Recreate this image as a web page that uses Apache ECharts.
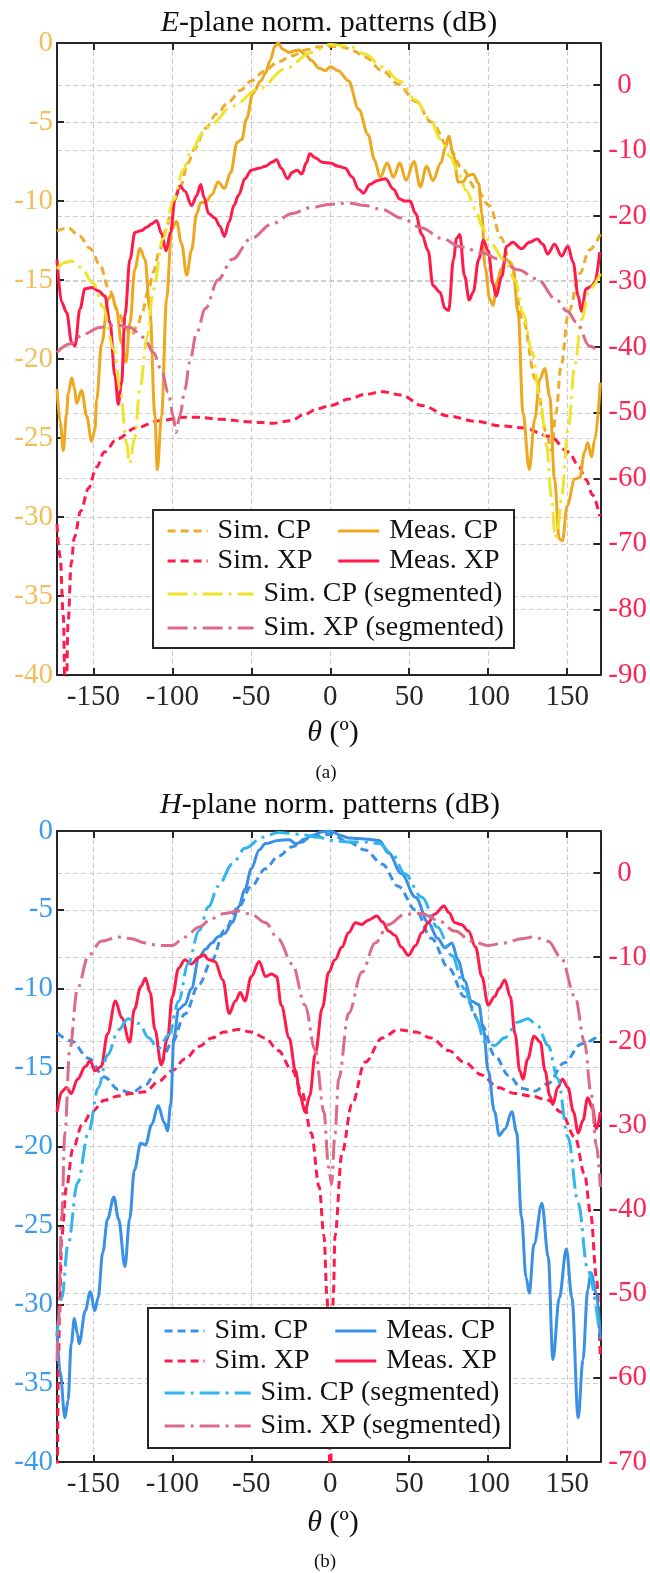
<!DOCTYPE html>
<html><head><meta charset="utf-8">
<script src="https://cdn.jsdelivr.net/npm/echarts@6.0.0/dist/echarts.min.js"></script>
<style>html,body{margin:0;padding:0;background:#fff}#c{width:650px;height:1573px}</style>
</head><body><div id="c"></div>
<script>
// ---------- tick labels & legend labels ----------
const thetaTicks = [-150, -100, -50, 0, 50, 100, 150];
const legendLabels = ['Sim. CP', 'Sim. XP', 'Meas. CP', 'Meas. XP', 'Sim. CP (segmented)', 'Sim. XP (segmented)'];

// ---------- (a) E-plane ----------
const E_simCP_theta = [-173,-166,-159,-152,-146,-140,-134,-130,-126,-122,-119,-115,-112,-108,-104,-100,-95,-90,-86,-79,-72,-64,-57,-50,-42,-33,-24,-16,-8,0,8,15,22,33,43,54,64,75,84,92,101,108,114,122,130,137,140,143,146,151,158,164,171];
const E_simCP_dB = [-11.9,-11.7,-12.2,-13.0,-14.0,-15.6,-17.0,-18.0,-18.5,-17.9,-17.0,-15.6,-14.5,-13.1,-11.8,-10.3,-9.1,-7.6,-6.7,-5.4,-4.5,-3.7,-3.0,-2.4,-1.8,-1.2,-0.8,-0.45,-0.25,-0.2,-0.25,-0.5,-0.9,-1.75,-2.6,-3.7,-5.0,-6.6,-8.0,-9.2,-10.3,-12.3,-13.9,-17.5,-21.3,-24.7,-25.8,-23.4,-20.5,-17.0,-14.6,-13.1,-12.1];

const E_measCP_theta = [-173,-171,-169,-167,-165.9,-163.7,-162,-160.6,-157.4,-154.2,-151.1,-149,-147.9,-144.7,-140.6,-138.4,-135.3,-132.1,-129.4,-126.8,-123.7,-120.5,-117.3,-114.2,-111,-109.5,-106.8,-103.6,-100.4,-97.3,-94.1,-90.9,-87.8,-84.6,-82,-79,-75,-71,-67,-63,-59,-56,-53,-49,-44,-41,-38,-35,-33,-30,-26,-23,-20,-16,-12,-7,-3,0,5,11.6,18,24,28,31.6,36,40,44,48,53,57,61,65,70,73,75,78,81,84,87,90.5,94,96,98,101,103,106,108,111.7,115.6,119,122,126,129.5,132.6,135.8,139,142,145,147,150,154.8,158,161,163,165.4,167.5,171];
const E_measCP_dB = [-21.9,-24,-25.8,-23.5,-22.2,-21.2,-21.8,-22.8,-22.0,-23.6,-25.2,-24.5,-22.6,-19.0,-16.2,-15.9,-16.9,-19.0,-20.2,-17.7,-14.3,-13.0,-13.7,-16.9,-23.6,-27.0,-23.6,-16.2,-11.8,-11.3,-12.7,-14.7,-13.1,-10.8,-10.1,-10.1,-9.6,-8.8,-9.2,-8.2,-6.3,-6.1,-4.8,-3.2,-2.4,-1.9,-1.1,-0.2,0,-0.4,-0.6,-0.5,-0.45,-0.7,-1.1,-1.6,-1.75,-1.5,-1.75,-2.4,-4.2,-5.8,-7.4,-8.5,-7.6,-8.5,-7.6,-8.7,-7.5,-9.1,-7.8,-8.7,-7.6,-6.6,-5.9,-7.1,-8.8,-8.8,-8.4,-8.3,-8.9,-10.8,-14.2,-16.2,-16.6,-15.0,-14.3,-13.7,-14.2,-17.1,-23.4,-27.0,-23.8,-21.3,-20.6,-22.4,-27.6,-31.4,-31.5,-29.3,-27.6,-27.5,-25.9,-25.3,-26.2,-25.1,-21.5];

const E_simXP_theta = [-173,-171,-169,-167.5,-166,-164,-162,-158,-153,-148,-143,-135,-123,-108,-93,-84,-69,-50,-36,-25,-16,-8,0,12,22,33,45,58,75,92,108,122,139,151,157,162,166,170.6];
const E_simXP_dB = [-67,-72,-81,-100,-82,-73,-69,-65,-61.5,-58.3,-56,-54,-52.3,-51.2,-50.7,-50.7,-51,-51.4,-51.6,-51.2,-50.2,-49.4,-48.9,-47.9,-47.2,-46.8,-47.3,-48.9,-50.5,-51.3,-52.0,-52.3,-53.6,-56.0,-58.0,-60.2,-62.5,-65.8];

const E_measXP_theta = [-173,-170,-166.9,-163.7,-161.6,-158.5,-155.3,-151.1,-146.9,-142.7,-139.5,-136.3,-134.2,-132.1,-130,-126.8,-123.7,-119.4,-116.3,-113.1,-109.9,-106.8,-104,-101.1,-98.3,-95.2,-92,-87.8,-84.6,-82,-80,-77,-73,-70,-67,-64,-61,-58,-54,-50,-45,-41,-37,-34,-31,-27,-24,-21,-18,-15,-13,-9.5,-5,0,5,9.5,13.7,18,21,25,29.5,35,40,44,47,50.5,54,58,62,65,69.5,72.6,75,78,80,82,85,88,90.5,94,97,100,103,105,108.6,111.7,115.6,121,126,131,134.6,137.7,142,146.5,150.5,153.7,157,159,162,165.4,167.5,170.6];
const E_measXP_dB = [-26.6,-33.2,-34.7,-39.3,-39.8,-34.2,-31.1,-30.9,-31.4,-32.2,-36.2,-44.4,-48.7,-45.4,-35.2,-26.6,-22.5,-22.2,-21.7,-21.2,-20.7,-22.7,-25.3,-22.5,-17.4,-15.4,-16.2,-18.4,-16.9,-15.2,-17.1,-19.6,-20.3,-21.5,-23.1,-20.9,-18.4,-16.8,-14.3,-13.0,-12.7,-12.4,-11.8,-11.4,-12.7,-14.3,-13.3,-13.0,-13.6,-11.8,-10.5,-11.1,-11.8,-11.9,-12.4,-12.7,-14.0,-15.9,-16.5,-15.2,-14.6,-14.3,-15.9,-17.4,-17.7,-17.7,-19.6,-22.8,-25.3,-30.6,-31.6,-34.1,-34.4,-26.6,-23.4,-22.8,-29.1,-32.8,-31.6,-26.6,-23.7,-25.3,-30.3,-32.2,-29.2,-24.6,-24.0,-25.0,-24.0,-23.5,-24.3,-25.8,-24.3,-26.1,-24.6,-27.0,-32.2,-34.5,-31.1,-30.7,-30.1,-25.5];

const E_segCP_theta = [-173,-168,-164,-158,-150,-144,-137,-133,-129,-127,-124,-120.5,-116,-112,-106,-99,-93,-88,-80,-75,-62,-45,-28,-12,0,12,22,33,44,54,63,70,76,81,86,92,96,101,110,117,122,128,132.6,137,140,142.5,144,146.5,150.5,155,159,164,171];
const E_segCP_dB = [-14.3,-13.9,-13.8,-14.2,-15.2,-16.7,-19.4,-21.9,-25.3,-26.6,-25.1,-21.9,-18.6,-15.6,-12.4,-9.9,-8.0,-6.8,-5.6,-5.1,-4.0,-2.9,-1.6,-0.6,-0.1,-0.2,-0.7,-1.5,-2.4,-3.6,-4.8,-6.1,-7.2,-8.2,-9.3,-10.5,-11.6,-12.6,-13.7,-15.0,-17.1,-19.6,-22.4,-25.5,-28.7,-31.3,-30.8,-28.7,-24.5,-20.3,-17.5,-15.6,-14.6];

const E_segXP_theta = [-173,-165,-156,-146,-135,-127,-118,-112,-107,-102.6,-99.4,-97.7,-95.2,-92,-89,-84.6,-79,-71,-62,-50,-37,-24,-12,0,11.6,22,33,45,58,70.5,83,96,107,119,131,143,150,156,164,170.6];
const E_segXP_dB = [-40.8,-39.5,-38.0,-37.0,-36.6,-37.0,-38.5,-40.8,-43.4,-46.9,-50.5,-53.0,-50.5,-46.4,-42.3,-37.8,-34.1,-29.7,-26.6,-23.4,-21.2,-19.6,-18.7,-18.2,-18.0,-18.4,-19.0,-20.3,-21.8,-23.4,-24.7,-25.6,-26.6,-28.2,-29.6,-32.7,-34.5,-36.2,-39.8,-40.8];

// ---------- (b) H-plane ----------
const H_simCP_theta = [-173,-164,-153,-143,-134,-126,-117,-109,-100,-92,-83,-75,-67,-58,-50,-41,-33,-24,-16,-7,0,11.6,22,33,43,54,64,75,85,96,104,113,121,129,138,148,159,171];
const H_simCP_dB = [-12.8,-13.3,-14.4,-15.6,-16.4,-16.6,-16.1,-15.0,-13.4,-11.6,-9.7,-8.2,-6.3,-4.8,-3.5,-2.4,-1.6,-1.0,-0.5,-0.3,-0.2,-0.7,-1.2,-2.1,-3.5,-5.0,-6.8,-8.7,-10.5,-12.3,-14.2,-15.5,-16.3,-16.5,-16.0,-14.7,-13.5,-12.9];

const H_measCP_theta = [-173,-171,-168,-166,-164,-162,-160,-159,-155,-152,-149,-147,-144,-141,-137,-134,-130,-127,-124,-120,-117,-113,-109,-105,-103,-101,-99,-96,-92,-88,-83,-79,-75,-71,-67,-62,-58,-54,-50,-45,-41,-33,-26,-22,-18,-12,-5,0,7,11.6,22,31,37,45,54,62,68,72.6,77,81,85,89.5,94,97,100,104,107,110.5,115,118,121,124,126,129,134,138,141,145,149.5,153,157,160,163,165,168.5,171];
const H_measCP_dB = [-31.7,-34.3,-37.2,-36.1,-32.5,-30.9,-31.9,-32.5,-30.4,-29.2,-30.4,-29.6,-26.7,-24.6,-23.2,-24.6,-27.6,-24.6,-21.5,-19.8,-19.9,-18.6,-17.4,-18.5,-19.0,-17.3,-13.1,-11.3,-11.0,-10.0,-8.0,-7.5,-7.1,-6.7,-6.5,-5.8,-4.8,-3.7,-2.4,-1.2,-0.8,-0.6,-0.55,-0.8,-0.7,-0.3,-0.05,0,-0.3,-0.45,-0.5,-0.6,-1.4,-2.7,-4.2,-5.8,-6.8,-7.4,-7.1,-8.2,-9.5,-10.8,-11.0,-12.6,-15.2,-17.8,-19.3,-18.9,-17.8,-19.1,-24.4,-28.3,-29.3,-26.2,-23.6,-27.0,-33.5,-29.6,-26.5,-29.6,-37.2,-33.5,-29.1,-28.0,-29.3,-32.2];

const H_simXP_theta = [-173,-172,-171.5,-170,-167,-163,-157,-151,-143,-134,-126,-117,-109,-100,-92,-83,-75,-67,-58,-50,-41,-33,-24,-18,-12,-7,-4,-2,-0.8,0,0.8,2,3,7.4,13.7,22,33,43,54,64,75,85,96,106,117,127,138,146,155,161,165,168.5,171];
const H_simXP_dB = [-80,-58,-53,-43.1,-37.3,-32.8,-29.9,-28.4,-27.0,-26.5,-26.2,-26.0,-24.8,-23.5,-22.1,-20.6,-19.6,-18.9,-18.6,-18.9,-19.6,-21.1,-23.5,-26.0,-30.9,-37.3,-43.1,-50.5,-60,-85,-60,-50,-43.1,-33.3,-27.5,-22.5,-19.6,-18.6,-18.9,-19.6,-21.1,-22.5,-24.0,-25.5,-26.2,-26.5,-27.0,-28.4,-31.4,-35.8,-40.7,-48.0,-57.8];

const H_measXP_theta = [-173,-170,-167,-164,-160,-155,-152,-149,-145,-141,-136,-132,-127,-124,-120,-117,-114,-111,-107,-103,-100,-96,-92,-88,-83,-80,-77,-73,-68,-64,-60,-57,-54,-50,-45,-41,-37,-34,-31,-26,-22,-19,-16,-13,-9.5,-5,-1,3,7.4,11.6,16,20,24,29.5,33,37,41,45,49.5,54,58,62,66,72,75,79,83,87.5,92,96,100,104,107,110.5,114,117,120,122,125,129,133,136,139,141,144,147,150.5,154,157,160,163,166,168.5,171];
const H_measXP_dB = [-28.4,-26.0,-25.5,-26.2,-24.5,-23.0,-22.3,-23.5,-23.0,-19.1,-15.2,-17.2,-20.1,-16.2,-13.5,-12.5,-14.2,-18.6,-22.8,-19.6,-14.7,-11.3,-10.3,-10.8,-10.0,-9.7,-10.3,-10.5,-12.7,-16.7,-15.2,-14.2,-15.2,-12.3,-10.5,-12.3,-12.0,-12.3,-15.7,-19.6,-23.5,-26.5,-28.4,-26.5,-21.5,-16.0,-11.8,-10.3,-8.8,-7.1,-5.9,-6.1,-5.6,-5.1,-5.8,-6.9,-7.4,-8.8,-9.8,-8.6,-7.1,-5.9,-4.9,-3.9,-4.7,-5.9,-6.1,-6.9,-8.8,-12.3,-15.7,-14.7,-13.7,-12.7,-14.7,-19.1,-23.5,-24.5,-22.1,-19.4,-20.1,-23.5,-26.5,-27.5,-25.5,-24.5,-25.5,-28.4,-30.9,-29.4,-26.7,-27.9,-30.4,-28.4];

const H_segCP_theta = [-173,-170,-166,-160,-153,-147,-141,-134,-128,-121,-115,-109,-102,-96,-90,-83,-77,-71,-62,-54,-43,-33,-20,-7,0,11.6,22,31,39.6,47,58,68,77,85,92,98,104,110.5,119,125,131,138,144,150.5,157,163,170];
const H_segCP_dB = [-32.0,-29.6,-26.2,-22.3,-19.1,-16.3,-14.2,-12.6,-11.9,-12.2,-13.1,-13.8,-12.9,-10.8,-8.4,-6.3,-4.8,-3.5,-2.1,-1.1,-0.4,-0.1,-0.2,-0.4,-0.6,-0.7,-0.7,-0.8,-1.5,-2.7,-4.2,-6.1,-7.9,-10.0,-11.8,-13.4,-13.6,-13.1,-12.1,-11.9,-12.3,-13.6,-15.7,-19.4,-23.6,-27.8,-31.4];

const H_segXP_theta = [-173,-172,-170,-168,-165,-160,-153,-145,-134,-126,-117,-109,-100,-92,-83,-75,-67,-58,-50,-41,-33,-24,-16,-9.5,-4,-1,0.8,3,5.3,11.6,20,28.4,37,47,58,68,79,89.5,100,110.5,121,129,138,146,155,161,165,168.5,171];
const H_segXP_dB = [-58,-52.9,-40.7,-30.9,-21.1,-13.7,-9.8,-8.1,-7.6,-7.8,-8.3,-8.6,-8.6,-7.6,-6.4,-5.4,-4.8,-4.5,-4.9,-5.9,-7.8,-10.8,-15.7,-21.1,-28.4,-35,-37,-31,-24.5,-16.7,-11.8,-8.3,-6.1,-4.9,-4.8,-5.6,-6.9,-8.1,-8.6,-8.3,-7.8,-7.6,-8.1,-10.0,-14.7,-20.1,-26.0,-32.4,-37.3];

// ---------- styling ----------
const FONT = '"Liberation Serif","Times New Roman",serif';
const COL = {
  orange: '#EDA81F', orangeDash: '#EEAC2B', red: '#FF1A4A', yellow: '#EEE52A', pink: '#DD6A86',
  blue: '#3A90E4', cyan: '#31B5EE', axis: '#262626', grid: '#cdcdcd',
  orangeLab: '#F2BE5C', blueLab: '#3C9BEA', redLab: '#FF2453'
};
const DASH = [8, 5], DASHDOT = [20, 6, 3, 6];

function pairs(th, v) { return th.map((t, i) => [t, v[i]]); }
function mk(id, th, v, xi, yi, color, type) {
  return {
    name: id, type: 'line', xAxisIndex: xi, yAxisIndex: yi, data: pairs(th, v), z: 2,
    symbol: 'none', showSymbol: false, smooth: 0.35, smoothMonotone: 'x', clip: true,
    lineStyle: { color: color, width: 3, type: type, cap: 'butt', join: 'round' },
    itemStyle: { color: color }, emphasis: { disabled: true }, silent: true, animation: false
  };
}
const P = (g, i) => g + '|' + legendLabels[i];

const series = [
  mk(P('E', 0), E_simCP_theta, E_simCP_dB, 0, 0, COL.orangeDash, DASH),
  mk(P('E', 1), E_simXP_theta, E_simXP_dB, 0, 1, COL.red, DASH),
  mk(P('E', 2), E_measCP_theta, E_measCP_dB, 0, 0, COL.orange, 'solid'),
  mk(P('E', 3), E_measXP_theta, E_measXP_dB, 0, 1, COL.red, 'solid'),
  mk(P('E', 4), E_segCP_theta, E_segCP_dB, 0, 0, COL.yellow, DASHDOT),
  mk(P('E', 5), E_segXP_theta, E_segXP_dB, 0, 1, COL.pink, DASHDOT),
  mk(P('H', 0), H_simCP_theta, H_simCP_dB, 2, 2, COL.blue, DASH),
  mk(P('H', 1), H_simXP_theta, H_simXP_dB, 2, 3, COL.red, DASH),
  mk(P('H', 2), H_measCP_theta, H_measCP_dB, 2, 2, COL.blue, 'solid'),
  mk(P('H', 3), H_measXP_theta, H_measXP_dB, 2, 3, COL.red, 'solid'),
  mk(P('H', 4), H_segCP_theta, H_segCP_dB, 2, 2, COL.cyan, DASHDOT),
  mk(P('H', 5), H_segXP_theta, H_segXP_dB, 2, 3, COL.pink, DASHDOT)
];

const splitStyle = { show: true, lineStyle: { color: COL.grid, width: 1.2, type: [5, 3] } };
function xAx(grid, pos, main) {
  return {
    type: 'value', gridIndex: grid, position: pos, min: -173, max: 171,
    axisLine: { show: true, onZero: false, lineStyle: { color: COL.axis, width: 2 } },
    axisTick: { show: true, inside: true, length: 7, customValues: thetaTicks, lineStyle: { color: COL.axis, width: 2 } },
    axisLabel: { show: main, customValues: thetaTicks, color: COL.axis, fontSize: 29, fontFamily: FONT, margin: 8 },
    splitLine: main ? splitStyle : { show: false }
  };
}
function yAx(grid, pos, min, max, interval, color) {
  const right = pos === 'right';
  return {
    type: 'value', gridIndex: grid, position: pos, min: min, max: max, interval: interval,
    axisLine: { show: true, onZero: false, lineStyle: { color: COL.axis, width: 2 } },
    axisTick: { show: true, inside: true, length: 7, lineStyle: { color: COL.axis, width: 2 } },
    axisLabel: {
      color: color, fontSize: 29, fontFamily: FONT, margin: right ? 8 : 4,
      formatter: function (v) {
        if (Math.abs(v / interval - Math.round(v / interval)) > 1e-6) return '';
        if (right && v === 0) return '{z|0}';
        return String(v);
      },
      rich: { z: { padding: [0, 0, 0, 9], color: color, fontSize: 29, fontFamily: FONT } }
    },
    splitLine: splitStyle
  };
}

function lg(id, left, top, w) {
  return {
    data: [id], left: left, top: top, padding: 0, itemWidth: w, itemHeight: 14, itemGap: 0,
    selectedMode: false, z: 60,
    itemStyle: { color: 'rgba(0,0,0,0)', borderWidth: 0, opacity: 0 },
    lineStyle: { width: 3.2 },
    formatter: function (n) { return n.split('|')[1]; },
    textStyle: { fontFamily: FONT, fontSize: 28, color: '#111', padding: [0, 0, 0, 5] }
  };
}
const legends = [
  lg(P('E', 0), 166, 517, 40), lg(P('E', 2), 336.6, 517, 41),
  lg(P('E', 1), 166, 547, 40), lg(P('E', 3), 336.6, 547, 41),
  lg(P('E', 4), 166, 580, 86), lg(P('E', 5), 166, 614, 86),
  lg(P('H', 0), 163, 1317, 40), lg(P('H', 2), 333.7, 1317, 41),
  lg(P('H', 1), 163, 1347, 40), lg(P('H', 3), 333.7, 1347, 41),
  lg(P('H', 4), 163, 1379, 86), lg(P('H', 5), 163, 1412, 86)
];

function txt(text, x, y, size, rich) {
  return {
    type: 'text', x: x, y: y, z: 50, silent: true,
    style: {
      text: text, font: size + 'px ' + FONT, fill: '#111',
      textAlign: 'center', textVerticalAlign: 'middle', align: 'center', verticalAlign: 'middle',
      rich: rich || {}
    }
  };
}
const italic = (s) => ({ i: { fontStyle: 'italic', fontSize: s, fontFamily: FONT, fill: '#111' } });

const option = {
  animation: false,
  backgroundColor: '#fff',
  grid: [
    { left: 57, top: 43, width: 544, height: 632 },
    { left: 57, top: 831, width: 544, height: 631 }
  ],
  xAxis: [xAx(0, 'bottom', true), xAx(0, 'top', false), xAx(1, 'bottom', true), xAx(1, 'top', false)],
  yAxis: [
    yAx(0, 'left', -40, 0, 5, COL.orangeLab),
    yAx(0, 'right', -90, 6.4, 10, COL.redLab),
    yAx(1, 'left', -40, 0, 5, COL.blueLab),
    yAx(1, 'right', -70, 5, 10, COL.redLab)
  ],
  legend: legends,
  series: series,
  graphic: {
    z: 50,
    elements: [
      { type: 'rect', z: 50, zlevel: 0, silent: true, shape: { x: 153, y: 510, width: 361, height: 138 }, style: { fill: '#fff', stroke: COL.axis, lineWidth: 2 } },
      { type: 'rect', z: 50, zlevel: 0, silent: true, shape: { x: 148, y: 1308, width: 362, height: 140 }, style: { fill: '#fff', stroke: COL.axis, lineWidth: 2 } },
      txt('{i|E}-plane norm. patterns (dB)', 329, 23, 30, italic(30)),
      txt('{i|H}-plane norm. patterns (dB)', 330, 805, 30, italic(30)),
      txt('{i|θ} (º)', 333, 733, 30, italic(30)),
      txt('{i|θ} (º)', 333, 1523, 30, italic(30)),
      txt('(a)', 326, 773, 19),
      txt('(b)', 325, 1562, 19)
    ]
  }
};
const chart = echarts.init(document.getElementById('c'), null, { renderer: 'canvas' });
chart.setOption(option);
</script>
</body></html>
